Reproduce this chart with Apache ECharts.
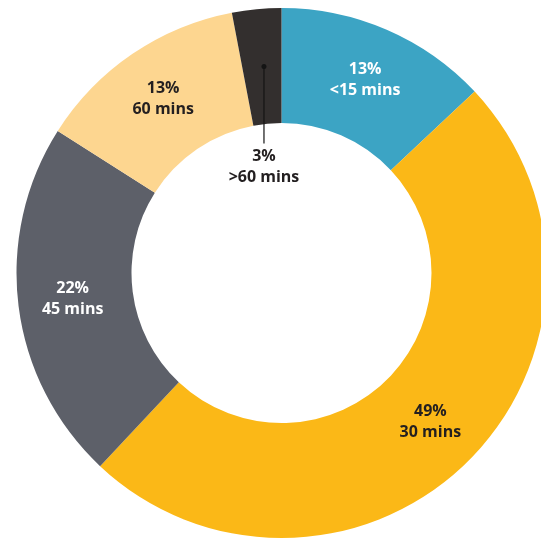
<!DOCTYPE html>
<html>
<head>
<meta charset="utf-8">
<script src="https://cdn.jsdelivr.net/npm/echarts@6/dist/echarts.min.js"></script>
<style>
  html, body { margin: 0; padding: 0; background: #ffffff; }
  #chart { width: 541px; height: 540px; }
</style>
</head>
<body>
<div id="chart"></div>
<script>
// Commute time shares
const categories = ['<15 mins', '30 mins', '45 mins', '60 mins', '>60 mins'];
const shares = [13, 49, 22, 13, 3];
const colors = ['#3ca4c4', '#fbb817', '#5d6069', '#fdd690', '#332f2e'];
const textColors = ['#ffffff', '#231f20', '#ffffff', '#231f20', '#231f20'];

const cx = 281.5, cy = 273;
const rIn = 150, rOut = 265;
const midR = (rIn + rOut) / 2;

// Mid angle (clockwise from 12 o'clock) of a slice, derived from the data
function midAngle(i) {
  const total = shares.reduce((a, b) => a + b, 0);
  let before = 0;
  for (let k = 0; k < i; k++) before += shares[k];
  return ((before + shares[i] / 2) / total) * Math.PI * 2;
}

// The smallest slice gets its label pulled into the hole with a pointer line
const smallIdx = 4;
const aSmall = midAngle(smallIdx);
const dotX = cx + Math.sin(aSmall) * midR + 2;
const dotY = cy - Math.cos(aSmall) * midR;
const smallLabelTop = dotY + 80;

const chart = echarts.init(document.getElementById('chart'), null, { renderer: 'canvas' });

const data = categories.map((c, i) => ({
  name: c,
  value: shares[i],
  itemStyle: { color: colors[i] },
  label: { color: textColors[i] }
}));

chart.setOption({
  backgroundColor: '#ffffff',
  animation: false,
  series: [{
    type: 'pie',
    center: [cx, cy],
    radius: [rIn, rOut],
    startAngle: 90,
    clockwise: true,
    avoidLabelOverlap: false,
    data: data,
    itemStyle: { borderWidth: 0 },
    label: {
      show: true,
      position: 'inside',
      formatter: p => p.value + '%\n' + p.name,
      fontFamily: 'Open Sans',
      fontWeight: 'bold',
      fontSize: 16,
      lineHeight: 21,
      align: 'center'
    },
    labelLine: { show: false },
    labelLayout: function (params) {
      if (params.dataIndex !== smallIdx) return {};
      return { x: dotX, y: smallLabelTop, align: 'center', verticalAlign: 'top' };
    }
  }],
  graphic: [{
    type: 'line',
    shape: { x1: dotX, y1: dotY, x2: dotX, y2: smallLabelTop - 3 },
    style: { stroke: '#141414', lineWidth: 1.2 },
    z: 100
  }, {
    type: 'circle',
    shape: { cx: dotX, cy: dotY, r: 2.5 },
    style: { fill: '#141414' },
    z: 101
  }]
});
</script>
</body>
</html>
